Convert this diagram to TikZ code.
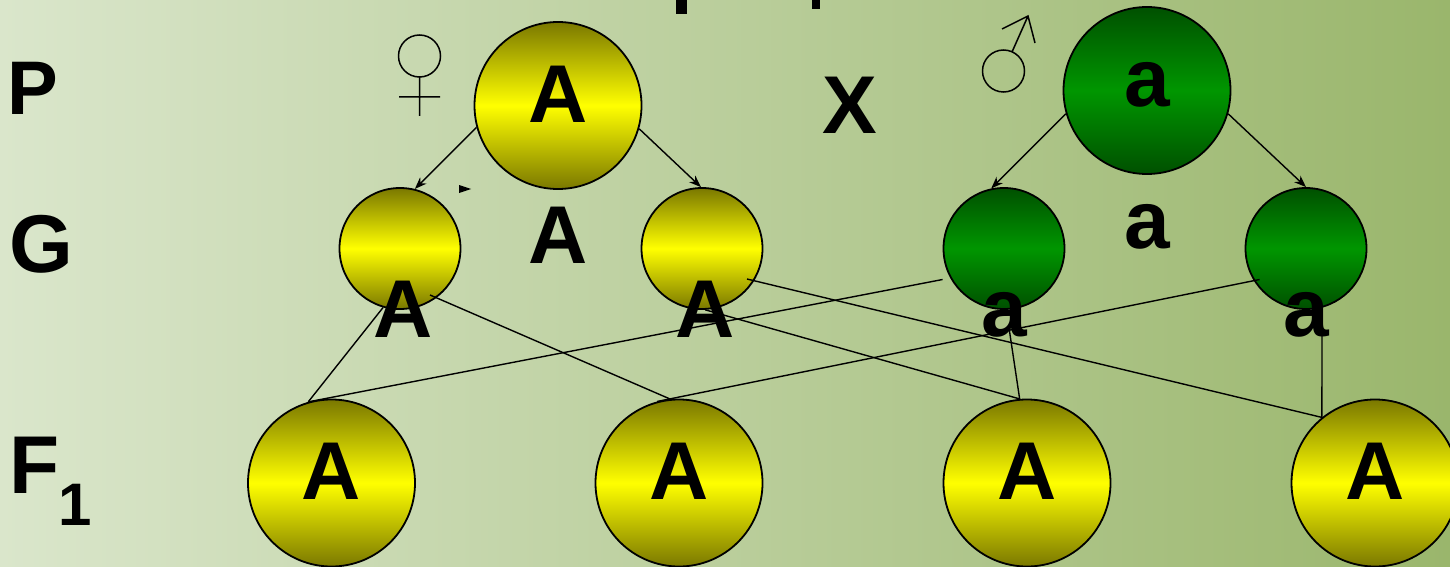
\documentclass[tikz,border=0pt]{standalone}
\usepackage{fontspec}
\setmainfont{Liberation Sans}
\usetikzlibrary{arrows.meta}
\definecolor{bgleft}{RGB}{218,230,203} \definecolor{bgright}{RGB}{154,182,108}
\definecolor{yeldark}{RGB}{122,120,0} \definecolor{yelmid}{RGB}{255,255,0}
\definecolor{grndark}{RGB}{0,80,0} \definecolor{grnmid}{RGB}{0,150,0}
\tikzset{big/.style={font=\fontsize{82}{90}\selectfont\bfseries},
  lbl/.style={big,anchor=base,inner sep=0pt},
  ball/.style={circle,draw,line width=1.8pt,big,text height=57pt,text depth=24pt,inner sep=0pt},
  yel/.style={ball,top color=yeldark,bottom color=yeldark,middle color=yelmid},
  grn/.style={ball,top color=grndark,bottom color=grndark,middle color=grnmid},
  gam/.style={minimum size=121pt}, par/.style={minimum size=167pt}}
\begin{document}
\begin{tikzpicture}[x=1pt,y=-1pt,>={Stealth[length=12pt,width=9pt]},line width=1.4pt]
          \useasboundingbox (0,0) rectangle (1450,567);
          \fill[left color=bgleft,right color=bgright] (0,0) rectangle (1450,567);
          \fill (676,0) rectangle (687,14); \fill (812,0) rectangle (820,9);
          \node[lbl,anchor=base west,font=\fontsize{76}{84}\selectfont\bfseries] (rowp) at (7,115) {P};
          \node[lbl,anchor=base west] (rowg) at (9,272) {G};
          \node[lbl,anchor=base west] (rowf) at (9,493) {F};
          \node[lbl,anchor=base west,font=\fontsize{60}{66}\selectfont\bfseries] (rowf1) at (58,525) {1};

          \node[yel,par] (fp) at (558,105.5) {A}; \node[grn,par] (mp) at (1147,90.5) {a};
          \node[lbl] (cross) at (850,133) {X};
          \draw[line width=1.5pt] (419.5,56) circle[radius=21pt] (419.5,77) -- (419.5,116)
          (399,97) -- (440,97);
          \draw[line width=1.5pt] (1003.5,71) circle[radius=21pt] (1012,52) -- (1028,16)
          (1002,29) -- (1028,16) -- (1035,43);
          \fill (459,185) -- (471,189) -- (459,193) -- cycle;

          \node[yel,gam] (g1) at (400,248.5) {}; \node[yel,gam] (g2) at (702,248.5) {};
          \node[grn,gam] (g3) at (1004,248.5) {}; \node[grn,gam] (g4) at (1306,248.5) {};
          \node[lbl] (ga) at (558,263) {A}; \node[lbl] (gb) at (1147,248) {a};
          \node[lbl] (g1a) at (403,337) {A}; \node[lbl] (g2a) at (705,337) {A};
          \node[lbl] (g3a) at (1004,336) {a}; \node[lbl] (g4a) at (1306.5,336) {a};
          \foreach \i/\x in {a/331.5,b/679,c/1027,d/1375} \node[yel,par] (f1\i) at (\x,483) {A};

          \draw[->] (fp.195) -- (g1.76); \draw[->] (fp.344) -- (g2.91);
          \draw[->] (mp.196) -- (g3.102); \draw[->] (mp.344) -- (g4.90);

          \draw (g1.254) -- (f1a.106); \draw ([yshift=-31pt]g3.west) -- (f1a.106);
          \draw ([xshift=30pt,yshift=-46.5pt]g1.center) -- (f1b.96);
          \draw ([xshift=15pt,yshift=-31pt]g4.west) -- (f1b.105);
          \draw (g2.273) -- (f1c.95); \draw ([xshift=5pt,yshift=-18pt]g3.south) -- (f1c.95);
          \draw ([xshift=45pt,yshift=-30.5pt]g2.center) -- (f1d.129);
          \draw ([xshift=16pt,yshift=-26pt]g4.south) -- (f1d.129);
        \end{tikzpicture}
\end{document}
